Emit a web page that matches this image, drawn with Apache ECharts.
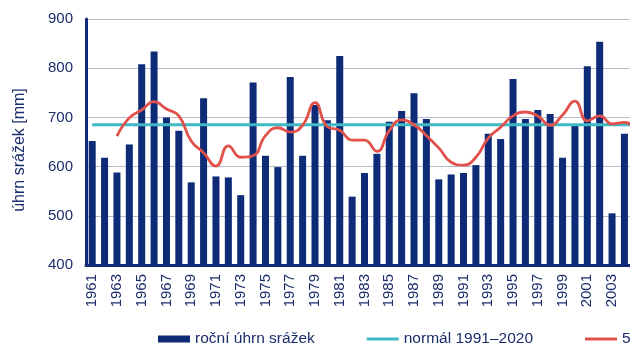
<!DOCTYPE html>
<html>
<head>
<meta charset="utf-8">
<script src="https://cdn.jsdelivr.net/npm/echarts@6/dist/echarts.min.js"></script>
<style>
  html, body { margin: 0; padding: 0; background: #fff; }
  #chart { width: 630px; height: 354px; }
</style>
</head>
<body>
<div id="chart"></div>
<script>
// years 1961-2005 (2005 is only partly visible at the right edge)
const years = [];
for (let y = 1961; y <= 2005; y++) years.push(String(y));

// annual precipitation [mm]
const annual = [
  652, 618, 588, 645, 808, 834, 700, 673, 568, 739,
  580, 578, 542, 771, 622, 599, 782, 622, 725, 694,
  825, 539, 587, 626, 691, 713, 749, 697, 574, 584,
  587, 603, 667, 656, 778, 697, 715, 707, 618, 683,
  804, 854, 505, 667, null
];

// climate normal 1991-2020
const normalValue = 685;
const normal = years.map(() => normalValue);

// 5-year moving average
const movingAvg = [
  null, null, 662, 699, 715, 732, 717, 703, 652, 628,
  601, 642, 619, 622, 663, 679, 670, 684, 730, 681,
  674, 654, 654, 631, 673, 695, 685, 663, 638, 609,
  603, 619, 658, 680, 703, 711, 703, 684, 705, 733,
  693, 703, 687, 690, 675
];

const navy = '#0e2b78';
const cyan = '#40b9c4';
const red = '#e2504a';
const textColor = '#1b2c6b';
const font = 'Liberation Sans, Arial, sans-serif';
const lineIcon = 'path://M0,0 H32 V3 H0 Z';

const chart = echarts.init(document.getElementById('chart'));

const option = {
  animation: false,
  textStyle: { fontFamily: font },
  // plot runs past the right edge, the picture is cropped there
  grid: { left: 86, width: 557, top: 19, bottom: 89, outerBoundsMode: 'none', containLabel: false },
  legend: {
    left: 158,
    top: 331,
    padding: 0,
    width: 1200,
    itemWidth: 32,
    itemHeight: 7,
    itemGap: 52,
    textStyle: { color: textColor, fontSize: 15.5, fontFamily: font },
    data: [
      { name: 'roční úhrn srážek', icon: 'rect' },
      { name: 'normál 1991–2020', icon: lineIcon },
      { name: '5letý klouzavý průměr', icon: lineIcon }
    ]
  },
  xAxis: {
    type: 'category',
    data: years,
    axisLine: { show: true, lineStyle: { color: navy, width: 3 } },
    axisTick: { show: false },
    axisLabel: {
      rotate: 90,
      color: textColor,
      fontSize: 15,
      margin: 9,
      interval: (i) => i % 2 === 0 && i < 44
    }
  },
  yAxis: {
    type: 'value',
    min: 400,
    max: 900,
    interval: 100,
    name: 'úhrn srážek [mm]',
    nameLocation: 'middle',
    nameGap: 58,
    nameTextStyle: { color: textColor, fontSize: 16, padding: [0, 0, 0, -16] },
    axisLine: { show: true, lineStyle: { color: navy, width: 3 } },
    axisTick: { show: false },
    axisLabel: { color: textColor, fontSize: 15, margin: 13 },
    splitLine: { lineStyle: { color: '#b7bccd', width: 1 } }
  },
  series: [
    {
      name: 'roční úhrn srážek',
      type: 'bar',
      data: annual,
      barWidth: 7,
      itemStyle: { color: navy },
      z: 2
    },
    {
      name: 'normál 1991–2020',
      type: 'line',
      data: normal,
      symbol: 'none',
      lineStyle: { color: cyan, width: 3 },
      itemStyle: { color: cyan },
      z: 3
    },
    {
      name: '5letý klouzavý průměr',
      type: 'line',
      data: movingAvg,
      smooth: 0.5,
      symbol: 'none',
      lineStyle: { color: red, width: 2.8 },
      itemStyle: { color: red },
      z: 4
    }
  ]
};

chart.setOption(option);
</script>
</body>
</html>
